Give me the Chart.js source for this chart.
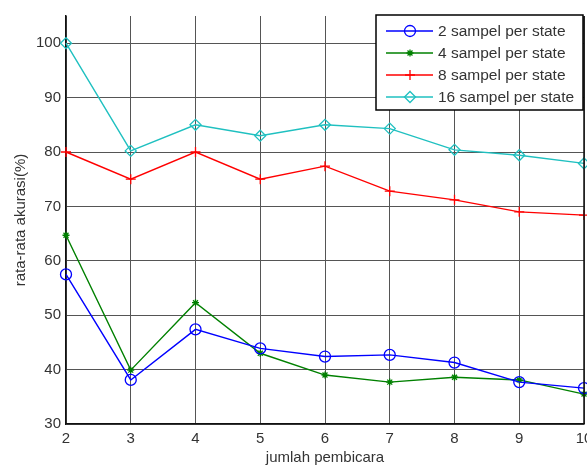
<!DOCTYPE html>
<html>
<head>
<meta charset="utf-8">
<script src="https://cdn.jsdelivr.net/npm/chart.js@4/dist/chart.umd.min.js"></script>
<style>
  html, body { margin: 0; padding: 0; background: #fff; }
  #wrap { width: 587px; height: 467px; }
</style>
</head>
<body>
<div id="wrap"><canvas id="chart" width="587" height="467"></canvas></div>
<script>
// x categories (jumlah pembicara)
const speakers = ['2', '3', '4', '5', '6', '7', '8', '9', '10'];

// average accuracy (%) per series
const sampel2 = [57.5, 38.1, 47.4, 43.9, 42.4, 42.7, 41.3, 37.7, 36.6];
const sampel4 = [64.7, 39.9, 52.3, 43.0, 39.0, 37.7, 38.6, 38.1, 35.5];
const sampel8 = [80.0, 75.0, 80.0, 75.0, 77.4, 72.8, 71.2, 69.0, 68.4];
const sampel16 = [100.0, 80.2, 85.0, 83.0, 85.0, 84.3, 80.4, 79.4, 77.9];

const seriesNames = ['2 sampel per state', '4 sampel per state', '8 sampel per state', '16 sampel per state'];
const yTicks = [30, 40, 50, 60, 70, 80, 90, 100];

const textColor = '#333';
const font = 'Liberation Sans, Arial, sans-serif';

function makeSet(label, data, color, style, radius) {
    return {
        label: label,
        data: data,
        borderColor: color,
        backgroundColor: 'rgba(0,0,0,0)',
        pointBorderColor: color,
        pointBackgroundColor: 'rgba(0,0,0,0)',
        pointStyle: style,
        pointRadius: radius,
        pointBorderWidth: 1.3,
        borderWidth: 1.4,
        tension: 0,
        fill: false,
        clip: false
    };
}

// Legend drawn by hand so each entry shows the line + marker like the original
const boxLegend = {
    id: 'boxLegend',
    afterDraw(chart) {
        const ctx = chart.ctx;
        const area = chart.chartArea;
        ctx.save();
        // right side of the axes box
        ctx.strokeStyle = '#111';
        ctx.lineWidth = 1.5;
        ctx.beginPath();
        ctx.moveTo(area.right, area.top);
        ctx.lineTo(area.right, area.bottom);
        ctx.stroke();

        const x0 = 376, y0 = 15, w = 207, h = 95;
        ctx.fillStyle = '#fff';
        ctx.fillRect(x0, y0, w, h);
        ctx.strokeStyle = '#000';
        ctx.lineWidth = 1.5;
        ctx.strokeRect(x0, y0, w, h);
        const rows = [31, 53, 75, 97];
        chart.data.datasets.forEach((ds, i) => {
            const y = rows[i];
            ctx.strokeStyle = ds.borderColor;
            ctx.lineWidth = 1.4;
            ctx.beginPath();
            ctx.moveTo(386, y);
            ctx.lineTo(433, y);
            ctx.stroke();
            ctx.lineWidth = 1.3;
            ctx.fillStyle = 'rgba(0,0,0,0)';
            Chart.helpers.drawPoint(ctx, {
                pointStyle: ds.pointStyle,
                radius: ds.pointRadius,
                rotation: 0,
                borderWidth: 1.3
            }, 410, y);
            ctx.fillStyle = textColor;
            ctx.font = '15.5px ' + font;
            ctx.textAlign = 'left';
            ctx.textBaseline = 'middle';
            ctx.fillText(ds.label, 438, y + 1);
        });
        ctx.restore();
    }
};

new Chart(document.getElementById('chart').getContext('2d'), {
    type: 'line',
    data: {
        labels: speakers,
        datasets: [
            makeSet(seriesNames[0], sampel2, '#0000ff', 'circle', 5.5),
            makeSet(seriesNames[1], sampel4, '#008000', 'star', 3.5),
            makeSet(seriesNames[2], sampel8, '#ff0000', 'cross', 5),
            makeSet(seriesNames[3], sampel16, '#1fc0c0', 'rectRot', 5.5)
        ]
    },
    options: {
        responsive: false,
        animation: false,
        layout: { autoPadding: false, padding: { top: 16, right: 3, left: 12, bottom: 0 } },
        plugins: {
            legend: { display: false },
            tooltip: { enabled: false }
        },
        scales: {
            x: {
                type: 'category',
                offset: false,
                grid: { color: '#555', lineWidth: 1, drawTicks: false },
                border: { color: '#111', width: 1.5 },
                ticks: { color: textColor, font: { family: font, size: 15 }, padding: 6, maxRotation: 0 },
                title: { display: true, text: 'jumlah pembicara', color: textColor, font: { family: font, size: 15 }, padding: { top: 4, bottom: 0 } },
                afterFit(scale) {
                    scale.height = 43;
                    scale.paddingLeft = 0;
                    scale.paddingRight = 0;
                }
            },
            y: {
                min: 30,
                max: 105,
                grid: { color: '#555', lineWidth: 1, drawTicks: false },
                border: { color: '#111', width: 1.5 },
                ticks: { color: textColor, font: { family: font, size: 15 }, padding: 5, stepSize: 10 },
                afterBuildTicks(scale) { scale.ticks = yTicks.map(v => ({ value: v })); },
                title: { display: true, text: 'rata-rata akurasi(%)', color: textColor, font: { family: font, size: 15 }, padding: { top: 0, bottom: 4 } },
                afterFit(scale) {
                    scale.width = 54;
                    scale.paddingTop = 0;
                    scale.paddingBottom = 0;
                }
            }
        }
    },
    plugins: [boxLegend]
});
</script>
</body>
</html>
